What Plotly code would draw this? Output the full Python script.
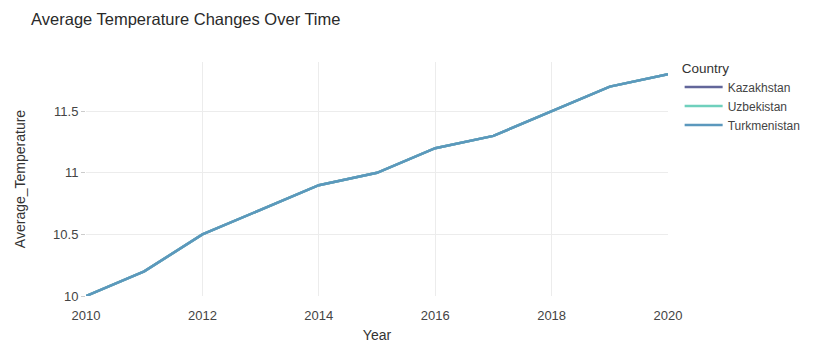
import plotly.graph_objects as go

# Yearly average temperature by country
years = [2010, 2011, 2012, 2013, 2014, 2015, 2016, 2017, 2018, 2019, 2020]
kazakhstan = [10.0, 10.2, 10.5, 10.7, 10.9, 11.0, 11.2, 11.3, 11.5, 11.7, 11.8]
uzbekistan = [10.0, 10.2, 10.5, 10.7, 10.9, 11.0, 11.2, 11.3, 11.5, 11.7, 11.8]
turkmenistan = [10.0, 10.2, 10.5, 10.7, 10.9, 11.0, 11.2, 11.3, 11.5, 11.7, 11.8]

countries = ["Kazakhstan", "Uzbekistan", "Turkmenistan"]
series = [kazakhstan, uzbekistan, turkmenistan]
colors = ["#62669a", "#6fd0bd", "#5b98bd"]

fig = go.Figure()
for name, vals, col in zip(countries, series, colors):
    fig.add_trace(go.Scatter(x=years, y=vals, mode="lines", name=name,
                             line=dict(color=col, width=2.5)))

fig.update_layout(
    width=818, height=343,
    paper_bgcolor="white", plot_bgcolor="white",
    margin=dict(l=86, r=150, t=62, b=47, autoexpand=False),
    font=dict(family="Liberation Sans, Arial, sans-serif", color="#444", size=13),
    title=dict(text="Average Temperature Changes Over Time", x=0.038, xanchor="left",
               y=0.945, yanchor="middle", font=dict(size=16.5, color="#2a2a2a")),
    legend=dict(title=dict(text="Country", font=dict(size=13.5, color="#333")),
                x=1.02, y=1.03, yanchor="top", font=dict(size=12, color="#444"),
                itemwidth=38, tracegroupgap=0),
    xaxis=dict(title=dict(text="Year", font=dict(size=14, color="#333"), standoff=10),
               range=[2010, 2020], dtick=2, showgrid=True, gridcolor="#ececec",
               zeroline=False, showline=False, ticks="", ticklabelstandoff=10,
               automargin=False),
    yaxis=dict(title=dict(text="Average_Temperature",
                          font=dict(size=14, color="#333"), standoff=24),
               range=[10, 11.9], tickvals=[10, 10.5, 11, 11.5],
               ticktext=["10", "10.5", "11", "11.5"],
               showgrid=True, gridcolor="#ececec", zeroline=False, showline=False,
               ticks="outside", ticklen=4, tickcolor="#ccc", automargin=False),
)

fig.write_html("out.html")
